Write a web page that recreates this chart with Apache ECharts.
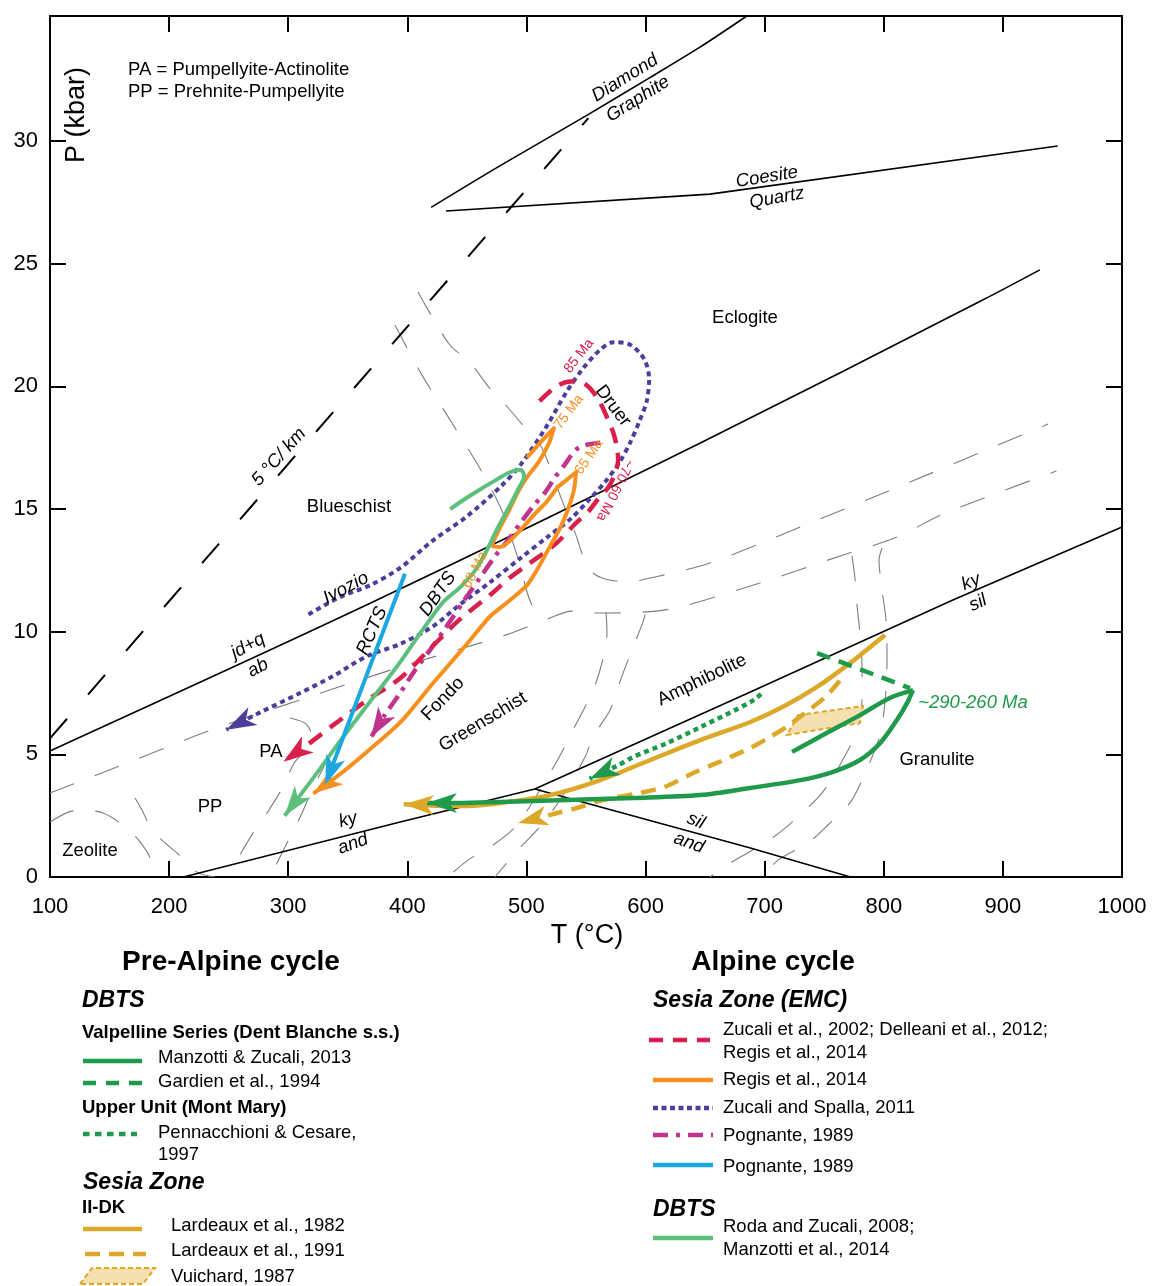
<!DOCTYPE html>
<html lang="en">
<head>
<meta charset="UTF-8">
<title>P-T paths</title>
<script src="https://cdn.jsdelivr.net/npm/echarts@6.0.0/dist/echarts.min.js"></script>
<style>
  html, body { margin: 0; padding: 0; background: #fff; }
  #main { width: 1153px; height: 1286px; }
</style>
</head>
<body>
<div id="main"></div>
<script>
// every point is [T (°C), P (kbar)]
var presTicks = [0, 5, 10, 15, 20, 25, 30];

// reaction / facies boundaries (black)
var diamondGraphite = [[420, 27.3], [478, 29.0], [551, 31.06], [604, 32.6], [646, 33.84], [685, 35.1]];
var coesiteQuartz = [[432.5, 27.15], [654, 27.84], [946, 29.8]];
var jdqAb = [[100, 5.14], [371, 11.21], [646, 17.69], [883, 23.52], [931, 24.75]];
var kyAndSil = [[212, 0], [394, 2.24], [507, 3.59], [688, 7.54], [858, 11.29], [1000, 14.27]];
var silAnd = [[507, 3.59], [688, 1.18], [772, 0]];
var geotherm5 = [[100, 5.65], [552, 30.94]];

// facies field boundaries (grey dashed)
var faciesA = [[100, 3.42], [167, 4.69], [233, 5.95], [310, 7.22], [394, 8.56], [483, 9.87], [518, 10.52], [538, 10.84], [553, 10.76], [609, 10.84], [680, 11.74], [766, 13.13], [809, 13.82], [852, 14.84], [945, 16.55]];
var faciesB = [[409, 23.85], [435, 21.73], [453, 20.95], [469, 19.93], [484, 19.16], [500.5, 18.22], [513, 17.49], [525, 15.98], [533, 14.96], [541, 14.02], [547.5, 13.09], [555, 12.43], [566, 12.15], [584, 12.03], [608, 12.23], [654, 12.8], [730, 14.27], [814, 15.94], [938, 18.47]];
var faciesC = [[389.6, 22.5], [412.3, 20.46], [437.5, 18.51], [462.7, 16.51], [480.3, 14.84], [487.9, 13.74], [494.6, 12.72], [498.8, 11.9], [504.7, 11.09], [515.6, 10.52]];
var faciesD1 = [[566.8, 10.8], [567.6, 9.99], [565.9, 9.25], [559.2, 8.03], [550.8, 7.09], [539.1, 5.99], [530.7, 5.18], [511.4, 3.55], [490.4, 2.04], [469.4, 1.22], [450.9, 0.69], [434.1, 0]];
var faciesD2 = [[599.5, 10.7], [597.9, 10.4], [586.9, 9.05], [576.9, 7.75], [570.2, 6.81], [555.9, 5.71], [549.2, 4.89], [528.2, 3.14], [508.9, 1.92], [492.9, 1.1], [473.6, 0]];
var faciesG1 = [[773.3, 13.09], [775.8, 12.19], [777.5, 11.09], [780, 9.95], [781.7, 8.64], [781.7, 7.22], [775.8, 5.79], [763.2, 4.57], [748.1, 3.42], [731.3, 2.61], [715.4, 1.92], [700.3, 1.39], [670.9, 0.57], [654.1, 0]];
var faciesG2 = [[798.5, 13.41], [796, 12.92], [798.5, 11.7], [801.9, 10.48], [802.7, 9.05], [801.9, 7.62], [796.8, 5.79], [781.7, 3.95], [771.6, 3.02], [753.2, 2.12], [736.4, 1.39], [711.2, 0.69], [698.6, 0]];
var faciesP1 = [[301.5, 6.48], [314.9, 6.24], [320, 5.71], [312.4, 5.1], [304, 4.57], [295.6, 3.67], [282.2, 2.61], [270.4, 1.79], [259.5, 0.9], [251.9, 0.2]];
var faciesP2 = [[335.1, 4.97], [320, 3.55], [311.6, 2.61], [301.5, 1.63], [290.6, 0.57], [285.5, 0.04]];
var faciesZ1 = [[100, 2.24], [122.7, 2.73], [144.5, 2.61], [163, 2.04], [175.6, 1.43], [184, 0.69], [182.3, 0.04]];
var faciesZ2 = [[171.4, 3.22], [177.2, 2.73], [185.6, 1.92], [196.5, 1.39], [206.6, 0.98], [223.4, 0.2], [238.5, 0]];

// Alpine cycle paths
var zucaliSpalla = [[317, 10.7], [343, 11.4], [369, 11.9], [394, 12.6], [421, 13.7], [450, 14.7], [478, 15.9], [495, 16.8], [516, 18.3], [534, 19.8], [547, 20.7], [562, 21.5], [573, 21.8], [587, 21.7], [599, 21.1], [603, 20.3], [601, 19.4], [595, 18.6], [587, 17.7], [578, 16.9], [566, 16.1], [553, 15.4], [537, 14.6], [516, 13.8], [495, 13.0], [469, 12.0], [444, 11.1], [421, 10.2], [394, 9.5], [366, 9.0], [338, 8.2], [310, 7.5], [276, 6.7], [248, 6.0]];
var zucaliDelleani = [[511, 19.4], [525, 20.0], [537, 20.2], [549, 20.1], [560, 19.5], [568, 18.7], [573, 18.1], [576, 17.5], [577, 17.0], [574, 16.4], [569, 15.9], [560, 15.4], [552, 14.9], [541, 14.4], [525, 13.6], [503, 12.8], [486, 12.2], [472, 11.6], [444, 10.5], [419, 9.3], [394, 8.1], [366, 7.2], [338, 6.2], [318, 5.46], [296, 4.7]];
var regis = [[500.5, 17.1], [511.4, 17.7], [523, 18.3], [519, 17.7], [510, 16.9], [500.5, 16.3], [493, 15.7], [486, 15.0], [479.5, 14.4], [474.4, 13.9], [471, 13.5], [478, 13.45], [486, 13.7], [496, 14.2], [507, 14.8], [517, 15.3], [526.5, 15.9], [534, 16.2], [541.6, 16.5], [540, 15.8], [535, 15.0], [528, 14.2], [520, 13.5], [511, 12.7], [500.5, 11.9], [484, 11.2], [469, 10.6], [450, 9.5], [421.5, 7.9], [394, 6.3], [366, 5.1], [341, 4.1], [321, 3.4]];
var pognanteDashDot = [[562, 17.7], [549, 17.6], [541, 17.4], [532, 16.8], [524, 16.3], [516, 15.7], [507, 15.2], [496, 14.5], [484, 13.7], [474, 13.1], [461, 12.2], [448, 11.3], [432, 10.15], [419, 9.25], [406, 8.4], [394, 7.5], [381, 6.6], [369.5, 5.7]];
var pognanteSolid = [[398, 12.36], [331, 3.75]];
var rodaZucali = [[436, 15.0], [448, 15.4], [461, 15.8], [475, 16.2], [486, 16.5], [495, 16.6], [498, 16.35], [493, 15.8], [484.5, 15.0], [475, 14.15], [466, 13.25], [457, 12.5], [444, 11.8], [430, 11.2], [411, 9.95], [394, 8.76], [369.5, 7.2], [346, 5.7], [322, 4.1], [297, 2.5]];

// pre-Alpine cycle paths
var manzottiPrograde = [[723, 5.1], [752, 5.87], [780, 6.6], [805, 7.3], [824.5, 7.62]];
var manzottiRetrograde = [[824.5, 7.62], [819.5, 7.09], [811, 6.4], [797, 5.46], [780, 4.77], [757, 4.28], [730, 3.95], [688, 3.63], [646, 3.34], [590, 3.22], [534, 3.14], [478, 3.06], [442, 3.02], [416.5, 3.02]];
var gardien = [[744, 9.13], [822, 7.7]];
var pennacchioni = [[697, 7.46], [688, 7.13], [646, 6.11], [618, 5.46], [589.5, 4.89], [576, 4.53], [553, 4.0]];
var lardeaux1982 = [[801, 9.87], [771.6, 8.72], [744, 7.75], [715, 6.93], [688, 6.32], [646, 5.58], [604, 4.77], [562, 3.95], [520, 3.34], [478, 3.02], [444, 2.89], [397, 2.97]];
var lardeaux1991 = [[763, 8.0], [751, 7.34], [734, 6.69], [718, 6.11], [704.5, 5.71], [688, 5.26], [660, 4.65], [640, 4.24], [618, 3.71], [595, 3.42], [564, 3.14], [542, 2.81], [526, 2.61], [493, 2.2]];
var vuichard = [[728, 6.6], [782.5, 6.97], [780, 6.28], [718.7, 5.79]];

var FONT = "'Liberation Sans', Arial, Helvetica, sans-serif";
var DKGREEN = '#1f9a4a', LTGREEN = '#5cbf7c', GOLD = '#dca82a', GOLDFILL = '#f4e0ae';
var ORANGE = '#f7901e', RED = '#d8204b', PURPLE = '#4b3f9c', MAGENTA = '#c1348e', BLUE = '#1da7e1';
var GREY = '#7d7d7d';

function line(data, color, width, dash, smooth, z) {
    return {
        type: 'line', data: data, symbol: 'none', smooth: smooth || false,
        silent: true, z: z || 3,
        lineStyle: {color: color, width: width, type: dash || 'solid', cap: 'butt', join: 'round'}
    };
}

function renderArrow(params, api) {
    var from = api.coord([api.value(0), api.value(1)]);
    var tip = api.coord([api.value(2), api.value(3)]);
    var dx = tip[0] - from[0], dy = tip[1] - from[1];
    var d = Math.sqrt(dx * dx + dy * dy) || 1;
    dx /= d; dy /= d;
    var L = 30, W = 10, N = 8;
    var bx = tip[0] - dx * L, by = tip[1] - dy * L;
    return {
        type: 'polygon',
        shape: {points: [tip, [bx - dy * W, by + dx * W], [tip[0] - dx * (L - N), tip[1] - dy * (L - N)], [bx + dy * W, by - dx * W]]},
        style: {fill: api.visual('color')}
    };
}

var arrowPaths = [
    [zucaliSpalla, PURPLE], [zucaliDelleani, RED], [pognanteDashDot, MAGENTA], [regis, ORANGE],
    [rodaZucali, LTGREEN], [pognanteSolid, BLUE], [lardeaux1982, GOLD], [lardeaux1991, GOLD],
    [pennacchioni, DKGREEN], [manzottiRetrograde, DKGREEN]
];
var arrowData = arrowPaths.map(function (a) {
    var p = a[0], n = p.length;
    return {value: [p[n - 2][0], p[n - 2][1], p[n - 1][0], p[n - 1][1]], itemStyle: {color: a[1]}};
});

function label(text, x, y, rot, opt) {
    opt = opt || {};
    return {
        type: 'text', x: x, y: y, rotation: (rot || 0) * Math.PI / 180, silent: true, z: 100,
        style: {
            text: text, fill: opt.color || '#000', fontSize: opt.size || 18.5, fontFamily: FONT,
            fontStyle: opt.italic ? 'italic' : 'normal', fontWeight: opt.bold ? 'bold' : 'normal',
            align: opt.align || 'center', verticalAlign: 'middle'
        }
    };
}

function sample(x1, x2, y, color, dash) {
    return {
        type: 'line', silent: true, z: 100,
        shape: {x1: x1, y1: y, x2: x2, y2: y},
        style: {stroke: color, lineWidth: 4.5, lineDash: dash || null, lineCap: 'butt'}
    };
}

var it = {italic: true};
var small = function (c) { return {size: 14, color: c}; };
var L = {align: 'left'};
var LB = {align: 'left', bold: true};
var LBI = {align: 'left', bold: true, italic: true, size: 23};

var graphics = [
    label('P (kbar)', 77, 115, 90, {size: 27}),
    label('T (°C)', 587, 936, 0, {size: 27}),
    label('PA = Pumpellyite-Actinolite', 128, 70, 0, L),
    label('PP = Prehnite-Pumpellyite', 128, 92, 0, L),
    label('Diamond', 625, 78, 32, it),
    label('Graphite', 638, 99, 32, it),
    label('Coesite', 767, 177, 9, it),
    label('Quartz', 777, 198, 10, it),
    label('Eclogite', 745, 318),
    label('Blueschist', 349, 507),
    label('5 °C/ km', 279, 457, 48, it),
    label('Ivozio', 346, 588, 28, it),
    label('jd+q', 248, 646, 28, it),
    label('ab', 258, 668, 28, it),
    label('RCTS', 372, 631, 66, it),
    label('DBTS', 438, 594, 55, it),
    label('Fondo', 443, 699, 46),
    label('Greenschist', 483, 722, 31),
    label('Amphibolite', 702, 680, 26),
    label('PA', 271, 752),
    label('PP', 210, 807),
    label('Zeolite', 90, 851),
    label('ky', 348, 820, 15, it),
    label('and', 353, 844, 20, it),
    label('sil', 696, 821, -22, it),
    label('and', 689, 843, -20, it),
    label('ky', 971, 582, 22, it),
    label('sil', 978, 603, 25, it),
    label('Granulite', 937, 760),
    label('~290-260 Ma', 973, 703, 0, {italic: true, color: DKGREEN}),
    label('Druer', 613, 406, -53),
    label('85 Ma', 579, 356, 52, small(RED)),
    label('75 Ma', 569, 412, 53, small(ORANGE)),
    label('65 Ma', 589, 457, 56, small(ORANGE)),
    label('68 Ma', 475, 570, 63, small(ORANGE)),
    label('~70-60 Ma', 615, 490, -116.6, small(RED)),

    // legend, pre-Alpine column
    label('Pre-Alpine cycle', 231, 962, 0, {bold: true, size: 28}),
    label('DBTS', 82, 1001, 0, LBI),
    label('Valpelline Series (Dent Blanche s.s.)', 82, 1033, 0, LB),
    sample(83, 142, 1061, DKGREEN),
    label('Manzotti & Zucali, 2013', 158, 1058, 0, L),
    sample(83, 142, 1083, DKGREEN, [13, 10]),
    label('Gardien et al., 1994', 158, 1082, 0, L),
    label('Upper Unit (Mont Mary)', 82, 1108, 0, LB),
    sample(83, 137, 1134, DKGREEN, [6.5, 5.5]),
    label('Pennacchioni & Cesare,', 158, 1133, 0, L),
    label('1997', 158, 1155, 0, L),
    label('Sesia Zone', 83, 1183, 0, LBI),
    label('II-DK', 82, 1208, 0, LB),
    sample(83, 142, 1229, GOLD),
    label('Lardeaux et al., 1982', 171, 1226, 0, L),
    sample(85, 146, 1254, GOLD, [15, 9]),
    label('Lardeaux et al., 1991', 171, 1251, 0, L),
    {
        type: 'polygon', silent: true, z: 100,
        shape: {points: [[80, 1284], [92, 1268], [155, 1268], [143, 1284]]},
        style: {fill: GOLDFILL, stroke: GOLD, lineWidth: 2, lineDash: [5, 3]}
    },
    label('Vuichard, 1987', 171, 1277, 0, L),

    // legend, Alpine column
    label('Alpine cycle', 773, 962, 0, {bold: true, size: 28}),
    label('Sesia Zone (EMC)', 653, 1001, 0, LBI),
    sample(649, 710, 1040, RED, [14, 10]),
    label('Zucali et al., 2002; Delleani et al., 2012;', 723, 1030, 0, L),
    label('Regis et al., 2014', 723, 1053, 0, L),
    sample(653, 713, 1080, ORANGE),
    label('Regis et al., 2014', 723, 1080, 0, L),
    sample(653, 713, 1108, PURPLE, [5, 3.5]),
    label('Zucali and Spalla, 2011', 723, 1108, 0, L),
    sample(653, 713, 1135, MAGENTA, [15, 8, 4, 8]),
    label('Pognante, 1989', 723, 1136, 0, L),
    sample(653, 713, 1165, BLUE),
    label('Pognante, 1989', 723, 1167, 0, L),
    label('DBTS', 653, 1210, 0, LBI),
    sample(653, 713, 1238, LTGREEN),
    label('Roda and Zucali, 2008;', 723, 1227, 0, L),
    label('Manzotti et al., 2014', 723, 1250, 0, L)
];

var greyDash = [26, 22];
var series = [
    line(faciesA, GREY, 1.1, greyDash, 0.3, 1),
    line(faciesB, GREY, 1.1, greyDash, 0.3, 1),
    line(faciesC, GREY, 1.1, greyDash, 0.3, 1),
    line(faciesD1, GREY, 1.1, greyDash, 0.3, 1),
    line(faciesD2, GREY, 1.1, greyDash, 0.3, 1),
    line(faciesG1, GREY, 1.1, greyDash, 0.3, 1),
    line(faciesG2, GREY, 1.1, greyDash, 0.3, 1),
    line(faciesP1, GREY, 1.1, greyDash, 0.3, 1),
    line(faciesP2, GREY, 1.1, greyDash, 0.3, 1),
    line(faciesZ1, GREY, 1.1, greyDash, 0.3, 1),
    line(faciesZ2, GREY, 1.1, greyDash, 0.3, 1),

    line(diamondGraphite, '#000', 1.6, null, 0.3, 2),
    line(coesiteQuartz, '#000', 1.6, null, 0, 2),
    line(jdqAb, '#000', 1.6, null, 0.3, 2),
    line(kyAndSil, '#000', 1.6, null, 0, 2),
    line(silAnd, '#000', 1.6, null, 0, 2),
    line(geotherm5, '#000', 2, [26, 32], 0, 2),

    {
        type: 'custom', silent: true, z: 3,
        renderItem: function (params, api) {
            var pts = vuichard.map(function (p) { return api.coord(p); });
            return {type: 'polygon', shape: {points: pts}, style: {fill: GOLDFILL, stroke: GOLD, lineWidth: 2, lineDash: [5, 3]}};
        },
        data: [vuichard[0]]
    },
    line(lardeaux1982, GOLD, 4.5, null, 0.3, 3),
    line(lardeaux1991, GOLD, 4.5, [15, 9], 0.3, 3),
    line(pennacchioni, DKGREEN, 4.5, [5, 4], 0.3, 3),
    line(gardien, DKGREEN, 4.5, [14, 9], 0, 3),
    line(manzottiPrograde, DKGREEN, 4.5, null, 0.3, 3),
    line(manzottiRetrograde, DKGREEN, 4.5, null, 0.3, 3),

    line(zucaliSpalla, PURPLE, 4, [5, 4], 0.3, 3),
    line(pognanteDashDot, MAGENTA, 4.5, [15, 7, 4, 7], 0.3, 3),
    line(zucaliDelleani, RED, 4.5, [16, 10], 0.3, 3),
    line(regis, ORANGE, 4, null, 0.25, 3),
    line(rodaZucali, LTGREEN, 4, null, 0.3, 3),
    line(pognanteSolid, BLUE, 4, null, 0, 3),

    {
        type: 'custom', silent: true, z: 4,
        encode: {x: [0, 2], y: [1, 3]},
        renderItem: renderArrow,
        data: arrowData
    }
];

var axisCommon = {
    axisLine: {show: true, onZero: false, lineStyle: {color: '#000', width: 2}},
    axisTick: {show: true, inside: true, length: 16, lineStyle: {color: '#000', width: 2}},
    splitLine: {show: false}
};

var option = {
    backgroundColor: '#fff',
    animation: false,
    grid: {left: 50, right: 31, top: 16, bottom: 409, containLabel: false, outerBoundsMode: 'none'},
    xAxis: [
        Object.assign({
            type: 'value', min: 100, max: 1000, interval: 100, position: 'bottom',
            axisLabel: {color: '#000', fontSize: 22, fontFamily: FONT, margin: 19,
                formatter: function (v) { return String(v); }}
        }, axisCommon),
        Object.assign({
            type: 'value', min: 100, max: 1000, interval: 100, position: 'top',
            axisLabel: {show: false}
        }, axisCommon)
    ],
    yAxis: [
        Object.assign({}, axisCommon, {
            type: 'value', min: 0, max: 35.1, position: 'left',
            axisTick: {show: true, inside: true, length: 16, customValues: presTicks, lineStyle: {color: '#000', width: 2}},
            axisLabel: {color: '#000', fontSize: 22, fontFamily: FONT, margin: 12, customValues: presTicks,
                padding: [6, 0, 0, 0]}
        }),
        Object.assign({}, axisCommon, {
            type: 'value', min: 0, max: 35.1, position: 'right',
            axisTick: {show: true, inside: true, length: 16, customValues: presTicks, lineStyle: {color: '#000', width: 2}},
            axisLabel: {show: false}
        })
    ],
    graphic: graphics,
    series: series
};

var myChart = echarts.init(document.getElementById('main'), null, {renderer: 'canvas'});
myChart.setOption(option);
</script>
</body>
</html>
